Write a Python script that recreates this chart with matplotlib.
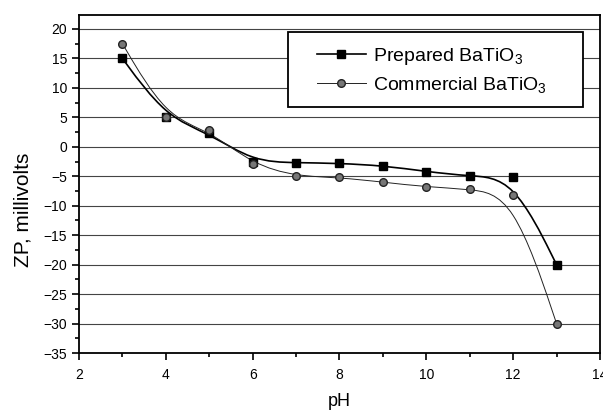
import matplotlib
matplotlib.use('Agg')
import matplotlib.pyplot as plt
import numpy as np
from matplotlib.path import Path
from matplotlib.patches import PathPatch, Rectangle
from matplotlib.lines import Line2D

plt.rcParams['font.family'] = ['Liberation Sans', 'DejaVu Sans']
plt.rcParams['mathtext.fontset'] = 'custom'
plt.rcParams['mathtext.rm'] = 'Liberation Sans'
plt.rcParams['mathtext.it'] = 'Liberation Sans'

ph = [3, 4, 5, 6, 7, 8, 9, 10, 11, 12, 13]
prepared = [15, 5, 2.3, -2.5, -2.7, -2.8, -3.2, -4.2, -5.0, -5.2, -20]
commercial = [17.5, 5, 2.8, -3.0, -5.0, -5.2, -6.0, -6.8, -7.2, -8.2, -30]
labels = ['Prepared BaTiO$_3$', 'Commercial BaTiO$_3$']


def bspline_path(x, y):
    # cubic B-spline with the points as control points (ends clamped),
    # given to matplotlib as Bezier segments
    p = np.column_stack([x, y]).astype(float)
    p = np.vstack([p[0], p[0], p, p[-1], p[-1]])
    verts, codes = [], []
    for i in range(1, len(p) - 2):
        a, b, c, d = p[i - 1], p[i], p[i + 1], p[i + 2]
        b0 = (a + 4 * b + c) / 6
        b1 = (2 * b + c) / 3
        b2 = (b + 2 * c) / 3
        b3 = (b + 4 * c + d) / 6
        if not verts:
            verts.append(b0)
            codes.append(Path.MOVETO)
        verts += [b1, b2, b3]
        codes += [Path.CURVE4] * 3
    return Path(verts, codes)


fig = plt.figure(figsize=(6.03, 4.11), dpi=100)
ax = fig.add_axes([0.131, 0.141, 0.864, 0.823])

for yv in range(-30, 21, 5):
    ax.axhline(yv, color='#444444', lw=0.8, zorder=1)

ax.add_patch(PathPatch(bspline_path(ph, prepared), fill=False, color='black', lw=1.2, zorder=3))
ax.add_patch(PathPatch(bspline_path(ph, commercial), fill=False, color='#222222', lw=0.7, zorder=3))
ax.plot(ph, prepared, ls='none', marker='s', ms=6, color='black', zorder=4)
ax.plot(ph, commercial, ls='none', marker='o', ms=5.5, mfc='#777777', mec='#222222', mew=1.0, zorder=4)

ax.set_xlim(2, 14)
ax.set_ylim(-35, 22.4)
ax.set_xticks(range(2, 15, 2))
ax.set_xticks(range(3, 14, 2), minor=True)
ax.set_yticks(range(-35, 21, 5))
ax.set_yticks(np.arange(-32.5, 21, 5), minor=True)
ax.tick_params(which='both', direction='out', top=False, right=False, labelsize=10, width=1.2)
ax.tick_params(which='major', length=5)
ax.tick_params(which='minor', length=3)
ax.tick_params(axis='x', pad=6)
for s in ax.spines.values():
    s.set_linewidth(1.3)

ax.set_xlabel('pH', fontsize=13, labelpad=8)
ax.set_ylabel('ZP, millivolts', fontsize=15)
ax.yaxis.set_label_coords(-0.09, 0.423)

# legend box
ax.add_patch(Rectangle((0.401, 0.728), 0.566, 0.222, transform=ax.transAxes,
                       facecolor='white', edgecolor='black', lw=1.3, zorder=5))
handles = [
    Line2D([], [], color='black', lw=1.2, marker='s', ms=6),
    Line2D([], [], color='#222222', lw=0.7, marker='o', ms=5.5, mfc='#777777', mec='#222222'),
]
leg = ax.legend(handles, labels, loc='upper left', bbox_to_anchor=(0.457, 0.907),
                fontsize=14, frameon=False, borderpad=0, borderaxespad=0,
                handlelength=2.5, handletextpad=0.35, labelspacing=0.4)
leg.set_zorder(6)

fig.savefig('out.png', dpi=100)
